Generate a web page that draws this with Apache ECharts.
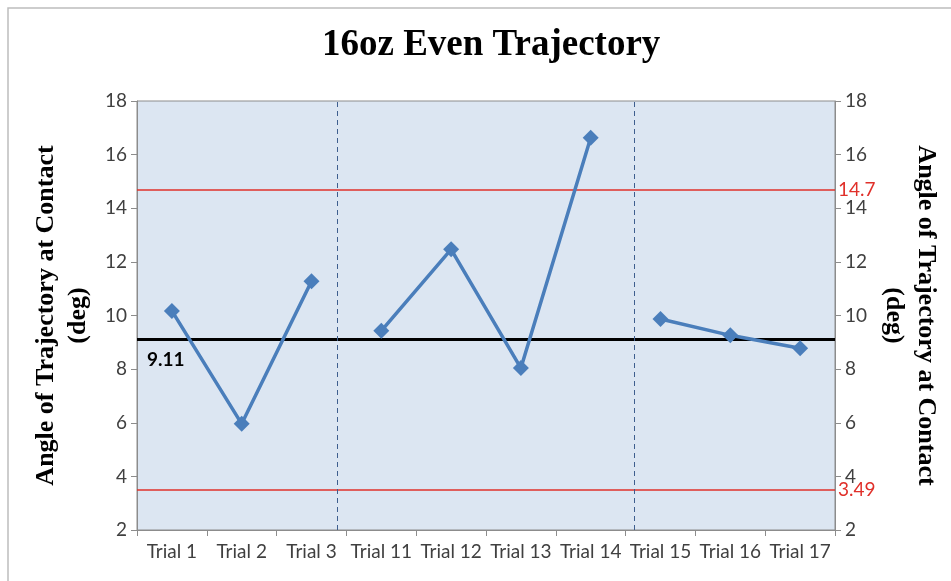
<!DOCTYPE html>
<html><head><meta charset="utf-8">
<script src="https://cdn.jsdelivr.net/npm/echarts@6/dist/echarts.min.js"></script>
<style>html,body{margin:0;padding:0;background:#fff}#c{width:951px;height:581px}</style>
</head><body><div id="c"></div>
<script>
const categories = ['Trial 1','Trial 2','Trial 3','Trial 11','Trial 12','Trial 13','Trial 14','Trial 15','Trial 16','Trial 17'];
const values = [10.17, 5.96, 11.28, 9.43, 12.47, 8.04, 16.63, 9.87, 9.26, 8.78];
const segments = [[0,2],[3,6],[7,9]];
const meanValue = 9.11;
const upperLimit = 14.7;
const lowerLimit = 3.49;
const dividers = [2.87, 7.13];
const yTicks = {min: 2, max: 18, interval: 2};

const chart = echarts.init(document.getElementById('c'), null, {renderer:'canvas'});
const axisNameStyle = {fontFamily:'Liberation Serif', fontWeight:'bold', fontSize:26, color:'#000', lineHeight:32};
const tickFont = {fontFamily:'Lato', fontSize:19, color:'#404040'};

const lineSeries = segments.map((s, k) => ({
  type:'line', xAxisIndex:0, yAxisIndex:0,
  data: values.map((v,i) => (i>=s[0] && i<=s[1]) ? v : null),
  connectNulls:false,
  symbol:'diamond', symbolSize:16,
  lineStyle:{color:'#4A7EBB', width:3.5},
  itemStyle:{color:'#4A7EBB'},
  z:5,
  markLine: k===0 ? {
    silent:true, symbol:'none', animation:false,
    data:[
      {yAxis: meanValue, lineStyle:{color:'#000', width:3, type:'solid'},
       label:{show:true, position:'insideStartBottom', formatter:String(meanValue), fontFamily:'Lato', fontWeight:'bold', fontSize:19, color:'#000', distance:[10,11]}},
      {yAxis: upperLimit, lineStyle:{color:'#E0302A', width:1.5, type:'solid'},
       label:{show:true, position:'end', formatter:String(upperLimit), fontFamily:'Lato', fontSize:19, color:'#E0302A', distance:3}},
      {yAxis: lowerLimit, lineStyle:{color:'#E0302A', width:1.5, type:'solid'},
       label:{show:true, position:'end', formatter:String(lowerLimit), fontFamily:'Lato', fontSize:19, color:'#E0302A', distance:3}}
    ]
  } : undefined
}));

const dividerSeries = {
  type:'line', xAxisIndex:1, yAxisIndex:0, data:[], silent:true,
  markLine:{silent:true, symbol:'none', animation:false, label:{show:false},
    lineStyle:{color:'#3E5E8E', width:1, type:[5,4]},
    data: dividers.map(d => ({xAxis:d}))}
};

chart.setOption({
  animation:false,
  backgroundColor:'#fff',
  title:{text:'16oz Even Trajectory', left:317, top:22,
    textStyle:{fontFamily:'Liberation Serif', fontWeight:'bold', fontSize:37, color:'#000'}},
  graphic:[{type:'rect', shape:{x:8, y:8, width:960, height:600}, style:{fill:'none', stroke:'#BDBDBD', lineWidth:1.5}, silent:true, z:-10}],
  grid:{left:137, right:116, top:101, bottom:51, outerBoundsMode:'none', containLabel:false, show:true, backgroundColor:'#DCE6F2', borderColor:'#8C8C8C', borderWidth:1},
  xAxis:[
    {type:'category', data:categories, boundaryGap:true,
     axisLine:{lineStyle:{color:'#8C8C8C', width:1}},
     axisTick:{show:true, length:6, lineStyle:{color:'#8C8C8C'}},
     axisLabel:Object.assign({margin:12, interval:0}, tickFont),
     splitLine:{show:false}},
    {type:'value', min:0, max:10, show:false, position:'bottom'}
  ],
  yAxis:[
    {type:'value', min:yTicks.min, max:yTicks.max, interval:yTicks.interval, position:'left',
     name:'Angle of Trajectory at Contact\n(deg)', nameLocation:'middle', nameGap:42, nameRotate:90,
     nameTextStyle:axisNameStyle,
     axisLine:{show:true, lineStyle:{color:'#8C8C8C'}},
     axisTick:{show:true, length:6, lineStyle:{color:'#8C8C8C'}},
     axisLabel:Object.assign({margin:10}, tickFont),
     splitLine:{show:false}},
    {type:'value', min:yTicks.min, max:yTicks.max, interval:yTicks.interval, position:'right',
     name:'Angle of Trajectory at Contact\n(deg)', nameLocation:'middle', nameGap:39, nameRotate:-90,
     nameTextStyle:axisNameStyle,
     axisLine:{show:true, lineStyle:{color:'#8C8C8C'}},
     axisTick:{show:true, length:6, lineStyle:{color:'#8C8C8C'}},
     axisLabel:Object.assign({margin:10}, tickFont),
     splitLine:{show:false}}
  ],
  series: lineSeries.concat([dividerSeries])
});
</script></body></html>
